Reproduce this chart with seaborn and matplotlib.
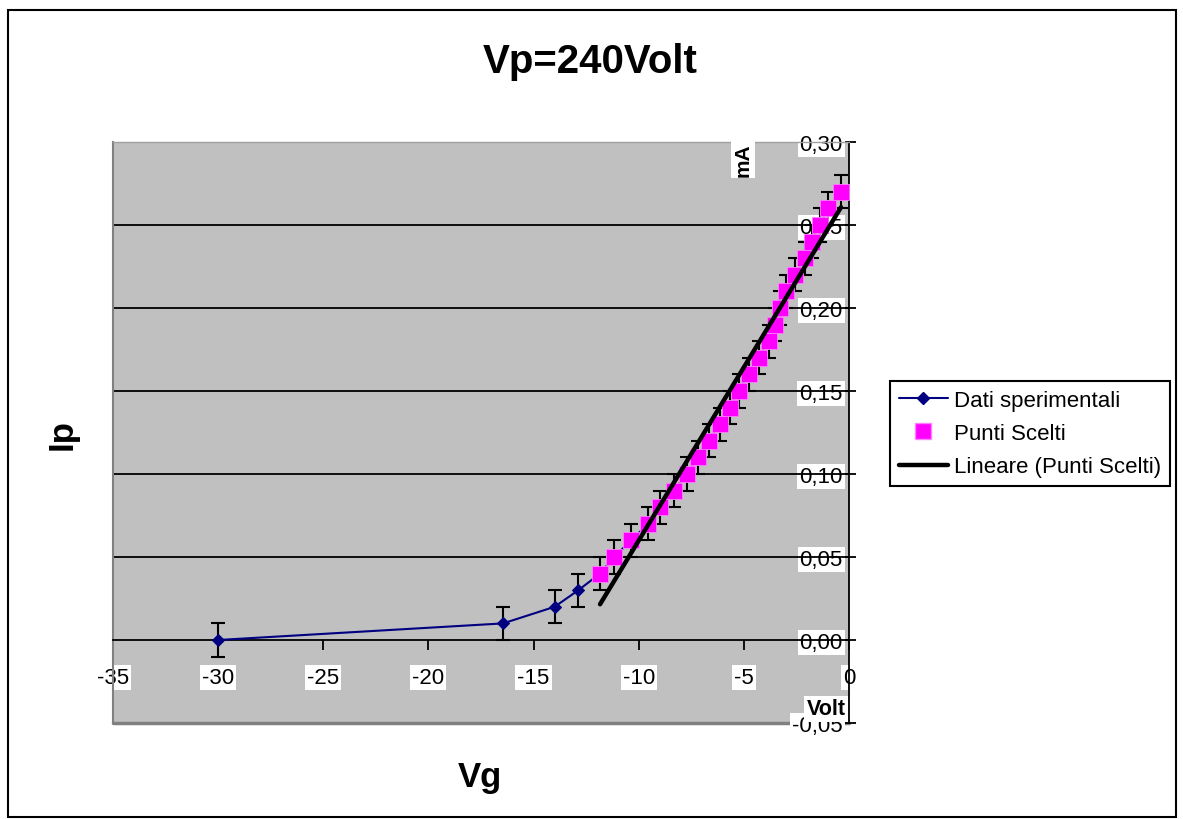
import numpy as np
import pandas as pd
import seaborn as sns
import matplotlib
matplotlib.use("Agg")
import matplotlib.pyplot as plt
from matplotlib.lines import Line2D
from matplotlib.patches import Rectangle
from matplotlib.ticker import FuncFormatter

# ---------------- data ----------------
# Experimental points (Vg in Volt, Ip in mA) – first the low region
vg_low = [-30.0, -16.45, -14.0, -12.87]
ip_low = [0.00, 0.01, 0.02, 0.03]
# Chosen points (Punti Scelti)
vg_sel = [-11.84, -11.17, -10.37, -9.54, -8.99, -8.32, -7.72, -7.17, -6.66,
          -6.14, -5.66, -5.24, -4.77, -4.29, -3.82, -3.50, -3.28, -3.00,
          -2.57, -2.09, -1.77, -1.40, -0.98, -0.38]
ip_sel = [0.04, 0.05, 0.06, 0.07, 0.08, 0.09, 0.10, 0.11, 0.12, 0.13, 0.14,
          0.15, 0.16, 0.17, 0.18, 0.19, 0.20, 0.21, 0.22, 0.23, 0.24, 0.25,
          0.26, 0.27]
ip_err = 0.01

x_ticks = [-35, -30, -25, -20, -15, -10, -5, 0]
y_ticks = [-0.05, 0.00, 0.05, 0.10, 0.15, 0.20, 0.25, 0.30]

title = "Vp=240Volt"
legend_labels = ["Dati sperimentali", "Punti Scelti", "Lineare (Punti Scelti)"]

# ---------------- style ----------------
sns.set_style("white")
plt.rcParams['font.family'] = ['Liberation Sans', 'DejaVu Sans']
plt.rcParams['text.color'] = 'black'
plt.rcParams['xtick.color'] = 'black'
plt.rcParams['ytick.color'] = 'black'

W, H = 1183, 820
fig = plt.figure(figsize=(W / 100, H / 100), dpi=100)
fig.patch.set_facecolor('white')

L, R, T, B = 113, 849, 143, 724
ax = fig.add_axes([L / W, 1 - B / H, (R - L) / W, (B - T) / H])
ax.set_facecolor('#C0C0C0')

exp_df = pd.DataFrame({"Vg": vg_low + vg_sel, "Ip": ip_low + ip_sel})
sel_df = pd.DataFrame({"Vg": vg_sel, "Ip": ip_sel})

# grid lines
for v in y_ticks:
    if 0 < v < 0.30:
        ax.axhline(v, color='black', lw=1.3, zorder=1)

# error bars
ax.errorbar(exp_df["Vg"], exp_df["Ip"], yerr=ip_err, fmt='none',
            ecolor='black', elinewidth=1.5, capsize=5, capthick=1.5, zorder=2)

# experimental line
sns.lineplot(data=exp_df, x="Vg", y="Ip", sort=False, estimator=None,
             color='#000080', lw=1.5, marker='D', markersize=6,
             markeredgecolor='#000080', ax=ax, zorder=3)

# chosen points
sns.scatterplot(data=sel_df, x="Vg", y="Ip", marker='s', s=140,
                color='#FF00FF', edgecolor='#FF80FF', linewidth=0.6,
                ax=ax, zorder=4)

# linear fit
sns.regplot(data=sel_df, x="Vg", y="Ip", scatter=False, ci=None,
            truncate=True, line_kws=dict(color='black', lw=3.2, zorder=5),
            ax=ax)

ax.set_xlim(-35, 0)
ax.set_ylim(-0.05, 0.30)
ax.set_xlabel("")
ax.set_ylabel("")

# spines
ax.spines['left'].set_color('#808080')
ax.spines['left'].set_linewidth(1.5)
ax.spines['top'].set_color('#A0A0A0')
ax.spines['top'].set_linewidth(1.0)
ax.spines['right'].set_color('black')
ax.spines['right'].set_linewidth(1.3)
ax.spines['bottom'].set_position(('data', 0))
ax.spines['bottom'].set_color('black')
ax.spines['bottom'].set_linewidth(1.3)
ax.axhline(-0.05, color='#808080', lw=2.5, clip_on=False, zorder=0.5)

fmt = FuncFormatter(lambda v, p: f"{v:.2f}".replace('.', ',').replace('-0,00', '0,00'))
ax.set_xticks(x_ticks)
ax.set_xticklabels([str(t) for t in x_ticks])
ax.set_yticks(y_ticks)
ax.yaxis.set_major_formatter(fmt)

ax.xaxis.set_ticks_position('bottom')
ax.tick_params(axis='x', direction='out', length=7, width=1.3, color='black',
               labelcolor='black', pad=12.5, labelsize=16)
ax.yaxis.set_ticks_position('right')
ax.tick_params(axis='y', direction='inout', length=10, width=1.3, color='black',
               labelcolor='black', labelright=True, labelleft=False,
               pad=-9.5, labelsize=16)

for lab in ax.xaxis.get_majorticklabels():
    lab.set_bbox(dict(facecolor='white', edgecolor='none', pad=1.5))
for lab in ax.yaxis.get_majorticklabels():
    lab.set_horizontalalignment('right')
    lab.set_bbox(dict(facecolor='white', edgecolor='none', pad=1.5))

# unit labels
fig.text(743 / W, 1 - 160 / H, "mA", rotation=90, ha='center', va='center',
         fontsize=15, fontweight='bold', color='black',
         bbox=dict(facecolor='white', edgecolor='none', pad=1.5), zorder=10)
fig.text(826 / W, 1 - 710 / H, "Volt", ha='center', va='center',
         fontsize=15.5, fontweight='bold', color='black',
         bbox=dict(facecolor='white', edgecolor='none', pad=1.5), zorder=10)

# titles
fig.text(590 / W, 1 - 62 / H, title, ha='center', va='center',
         fontsize=29, fontweight='bold', color='black')
fig.text(62 / W, 1 - 435 / H, "Ip", rotation=90, ha='center', va='center',
         fontsize=25, fontweight='bold', color='black')
fig.text(480 / W, 1 - 778 / H, "Vg", ha='center', va='center',
         fontsize=25, fontweight='bold', color='black')

# legend
handles = [
    Line2D([], [], color='#000080', lw=1.5, marker='D', markersize=6),
    Line2D([], [], color='none', marker='s', markersize=11,
           markerfacecolor='#FF00FF', markeredgecolor='#FF80FF'),
    Line2D([], [], color='black', lw=3.2),
]
leg = fig.legend(handles, legend_labels, loc='upper left',
                 bbox_to_anchor=(890 / W, 1 - 382 / H), fontsize=16,
                 frameon=True, fancybox=False, framealpha=1, edgecolor='black',
                 handlelength=2.2, handletextpad=0.3, borderpad=0.4,
                 labelspacing=0.55, borderaxespad=0)
leg.get_frame().set_linewidth(1.5)
for t in leg.get_texts():
    t.set_color('black')

# outer border
fig.patches.append(Rectangle((8 / W, 2 / H), (1176 - 8) / W, (809 - 2) / H,
                             transform=fig.transFigure, fill=False,
                             edgecolor='black', lw=1.5))

fig.savefig("out.png", dpi=100)
